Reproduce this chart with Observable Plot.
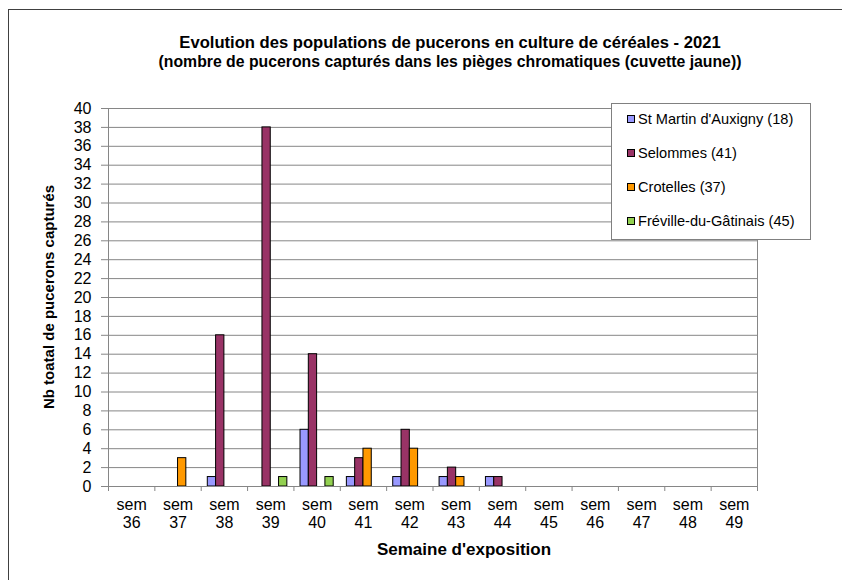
<!DOCTYPE html>
<html>
<head>
<meta charset="utf-8">
<script src="https://cdn.jsdelivr.net/npm/d3@7"></script>
<script src="https://cdn.jsdelivr.net/npm/@observablehq/plot@0.6"></script>
<style>
  html, body { margin: 0; padding: 0; background: #fff; overflow: hidden; }
  #wrap { position: relative; width: 842px; height: 580px; font-family: "Liberation Sans", Arial, sans-serif; color: #000; overflow: hidden; }
  #border { position: absolute; left: 8px; top: 9px; width: 1000px; height: 800px; border: 1px solid #404040; box-sizing: border-box; }
  #title { position: absolute; left: 0; width: 900px; top: 33px; text-align: center; font-weight: bold; font-size: 16.6px; line-height: 19px; }
  #title .l2 { font-size: 15.8px; }
  #ytitle { position: absolute; left: 48px; top: 297px; transform: translate(-50%, -50%) rotate(-90deg); font-weight: bold; font-size: 15px; white-space: nowrap; }
  #xtitle { position: absolute; left: 464px; top: 550px; transform: translate(-50%, -50%); font-weight: bold; font-size: 17px; white-space: nowrap; }
  #legend { position: absolute; left: 611px; top: 103px; width: 200px; height: 137px; border: 1px solid #808080; background: #fff; box-sizing: border-box; font-size: 14.6px; }
  .item { position: absolute; left: 15px; display: flex; align-items: center; white-space: nowrap; }
  .sw { width: 6px; height: 6px; border: 1px solid #000; margin-right: 3px; }
  #chart { position: absolute; left: 0; top: 0; }
</style>
</head>
<body>
<div id="wrap">
  <div id="border"></div>
  <div id="chart"></div>
  <div id="title">Evolution des populations de pucerons en culture de céréales - 2021<br><span class="l2">(nombre de pucerons capturés dans les pièges chromatiques (cuvette jaune))</span></div>
  <div id="ytitle">Nb toatal de pucerons capturés</div>
  <div id="xtitle">Semaine d'exposition</div>
  <div id="legend"></div>
</div>
<script>
const weeks = [36, 37, 38, 39, 40, 41, 42, 43, 44, 45, 46, 47, 48, 49];
const seriesNames = ["St Martin d'Auxigny (18)", "Selommes (41)", "Crotelles (37)", "Fréville-du-Gâtinais (45)"];
const seriesColors = ["#9999FF", "#993366", "#FF9900", "#92D050"];
const stMartin  = [0, 0, 1, 0, 6, 1, 1, 1, 1, 0, 0, 0, 0, 0];
const selommes  = [0, 0, 16, 38, 14, 3, 6, 2, 1, 0, 0, 0, 0, 0];
const crotelles = [0, 3, 0, 0, 0, 4, 4, 1, 0, 0, 0, 0, 0, 0];
const freville  = [0, 0, 0, 1, 1, 0, 0, 0, 0, 0, 0, 0, 0, 0];
const yTicks = d3.range(0, 41, 2);

const allSeries = [stMartin, selommes, crotelles, freville];
const barW = 0.179;           // band fraction per bar
const groupStart = -2 * barW; // 4 bars centred in each week
const data = [];
allSeries.forEach((vals, si) => {
  vals.forEach((v, wi) => {
    data.push({week: weeks[wi], series: seriesNames[si], si, value: v});
  });
});
const bars = data.filter(d => d.value > 0);
const boundaries = weeks.map(w => w - 0.5).concat([weeks[weeks.length - 1] + 0.5]);

const plot = Plot.plot({
  width: 842,
  height: 580,
  marginLeft: 108,
  marginRight: 85,
  marginTop: 108,
  marginBottom: 94,
  style: {fontFamily: "'Liberation Sans', Arial, sans-serif", fontSize: "16px", color: "#000", background: "transparent", overflow: "visible"},
  x: {type: "linear", domain: [weeks[0] - 0.5, weeks[weeks.length - 1] + 0.5]},
  y: {domain: [0, 40]},
  color: {domain: seriesNames, range: seriesColors},
  marks: [
    Plot.gridY(yTicks, {stroke: "#868686", strokeOpacity: 1}),
    Plot.ruleX([boundaries[boundaries.length - 1]], {stroke: "#868686"}),
    Plot.rectY(bars, {
      x1: d => d.week + groupStart + d.si * barW,
      x2: d => d.week + groupStart + (d.si + 1) * barW,
      y1: 0,
      y2: "value",
      fill: "series",
      stroke: "#000",
      strokeWidth: 1
    }),
    Plot.ruleX([boundaries[0]], {stroke: "#868686"}),
    Plot.ruleY([0], {stroke: "#868686"}),
    Plot.axisY({ticks: yTicks, tickSize: 7, tickPadding: 10, fontSize: 16, label: null, stroke: "#868686"}),
    Plot.axisX({ticks: boundaries, tickSize: 5, tickFormat: () => "", label: null, stroke: "#868686"}),
    Plot.axisX({ticks: weeks, tickSize: 0, tickPadding: 10, tickFormat: d => `sem\n${d}`, fontSize: 16, lineHeight: 1.15, label: null})
  ]
});
document.getElementById("chart").appendChild(plot);

const legend = document.getElementById("legend");
const rowTops = [7, 41, 75, 109];
seriesNames.forEach((name, i) => {
  const item = document.createElement("div");
  item.className = "item";
  item.style.top = rowTops[i] + "px";
  const sw = document.createElement("span");
  sw.className = "sw";
  sw.style.background = seriesColors[i];
  const tx = document.createElement("span");
  tx.textContent = name;
  item.appendChild(sw);
  item.appendChild(tx);
  legend.appendChild(item);
});
</script>
</body>
</html>
